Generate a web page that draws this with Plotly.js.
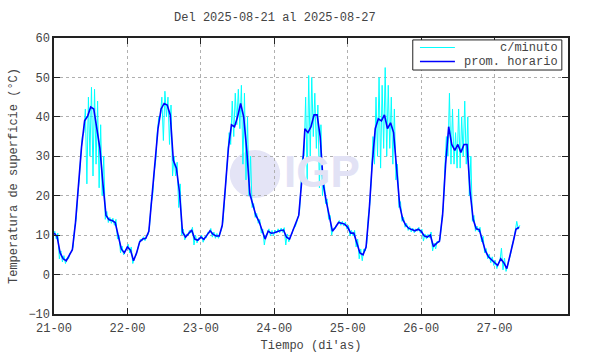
<!DOCTYPE html>
<html>
<head>
<meta charset="utf-8">
<script src="https://cdn.plot.ly/plotly-3.0.1.min.js"></script>
<style>html,body{margin:0;padding:0;background:#fff}#chart{width:590px;height:354px}</style>
</head>
<body>
<div id="chart"></div>
<script>
// Hourly averages (prom. horario), starting 2025-08-21 00:00, one value per hour
const promHorario = [
  10.5,9.7,5.5,4.0,3.5,4.8,6.3,13,22,32.4,39,40.2,42.5,42,37,32,23,15,13.9,13.7,13.2,9.5,6.5,5.5,
  7,6.2,3.5,5.5,8.3,9.0,9.2,11,19,27.4,37,42,43.4,43,40.5,29,27,21,10.8,9.5,10.5,11.3,9,8.7,
  9.5,8.9,10,11.1,10.2,9.8,9.8,12.5,22,32,38,37.5,40,43.4,40,31.6,20.5,17.5,15,13.5,11,9,11,10.5,
  10.6,11,11.2,11.3,9.5,9,11,12.5,15,24,37,36,37.5,40.5,40.5,35,23,18.5,14.5,11,12,13.2,13,12.8,
  12,10.5,10.5,8,5.5,5,7,16,28,37,39.5,39,40.5,37,38.5,36,26,17.5,14,12.5,11.7,11.3,11.1,11.5,
  11,9.8,9.5,10,7.1,7.9,8.5,15,28,37.5,33,31.5,33,31,33,33,21,14,11.6,11.4,9,6,4.5,3.8,
  3,2.3,4,3,1.5,4.5,8,11.5,12
];
// Per-minute readings (c/minuto): lowest and highest value read within each hour
const minutoBajo = [
  10,9,4,3.2,2.8,4,5.8,12,20,30,36,23,30,25,28,22,20,14,13.2,13,12.5,9,5.5,5,
  6.5,5.5,2.8,4.8,7.5,8.5,8.6,10,18,26,36,40,34,40,33,25,25,17,10,8.8,9.8,10.5,7.5,8,
  9,8.2,9.3,10.5,9.5,9.2,9.2,11.5,20,30,33,35,38,37,28,24,20,17,14.5,13,10.5,7.5,10.5,9.8,
  9.8,10.5,10.6,10.7,7.5,8.3,10.3,12,14.5,23,30,24,30,35,32,22,20,18,14,10,11.5,12.7,12.5,12.3,
  11.5,9.8,9.8,7,4,3.5,6,15,25,28,30,27,32,30,32,28,24,17,13.5,12,11.2,10.8,10.6,11,
  10.5,8.5,9,9.3,6,6.5,8,14,27,30,28,28,27,27,30,28,20,13.5,11,10.8,8.3,5.5,4,3,
  2.3,1.5,3.5,1.2,0.8,4,7.5,11,11.5
];
const minutoAlto = [
  11,10.5,6,4.8,4.2,5.5,7,14,24,35,42,45,47.5,47,44,38,30,16,14.5,14.3,14,10,7.2,6.2,
  7.7,7,4.2,6.2,9,9.6,9.8,12.5,20,29,40,45,46.5,45,43,30,28.5,23,11.5,10.3,11.2,12,10,9.3,
  10,9.6,10.7,11.7,10.8,10.4,10.4,13.5,24,36,44,46,47,48,46,40,30,18,15.5,14,11.5,10,11.6,11.2,
  11.3,11.6,11.8,11.9,10.3,9.7,11.7,13,16,30,45,50.5,50,46,43,38,25,19.2,15,11.8,12.5,13.7,13.5,13.3,
  12.5,11.2,11.2,9,6.5,6.5,8,18,35,45,50,48,52.5,48,45,42,28,18.5,14.5,13,12.2,11.8,11.6,12,
  11.5,10.3,10.2,10.8,8,8.5,9.2,17,35,46,42,36,42,40,44,40,30,15,12.3,12,9.7,6.6,5.2,4.5,
  3.6,3,6.7,4.2,2.2,5.2,8.8,13.5,12.5
];
const tickDias = ['2025-08-21','2025-08-22','2025-08-23','2025-08-24','2025-08-25','2025-08-26','2025-08-27'];
const tickEtiquetas = ['21-00','22-00','23-00','24-00','25-00','26-00','27-00'];
const nombres = ['c/minuto', 'prom. horario'];
const colores = ['#00ffff', '#0000ff'];

const base = Date.UTC(2025,7,21);
const H = 3600000;
const xHora = promHorario.map((v,i)=> base + i*H);
const xMin = [], yMin = [];
for (let i=0;i<minutoBajo.length;i++){
  xMin.push(base + (i-0.25)*H); yMin.push(minutoBajo[i]);
  xMin.push(base + (i+0.25)*H); yMin.push(minutoAlto[i]);
}

const fnt = {family:'Liberation Mono, DejaVu Sans Mono, monospace', size:12, color:'#444'};

const traces = [
  {x:xMin, y:yMin, type:'scatter', mode:'lines', name:nombres[0],
   line:{color:colores[0], width:1}},
  {x:xHora, y:promHorario, type:'scatter', mode:'lines', name:nombres[1],
   line:{color:colores[1], width:1.6}}
];

const axisCommon = {
  showline:true, linecolor:'#222', linewidth:1.6, mirror:'ticks',
  ticks:'inside', ticklen:6, tickcolor:'#222', tickwidth:1.2,
  showgrid:true, gridcolor:'#b0b0b0', griddash:'dot', gridwidth:1,
  zeroline:false, tickfont:fnt
};

// legend drawn as a boxed key in the top-right corner (paper coordinates)
const legBox = {x0:0.698, x1:0.988, y0:0.884, y1:0.993};
const legRowsY = [0.9656, 0.915];
const shapes = [
  {type:'circle', xref:'paper', yref:'paper', x0:0.342, x1:0.44, y0:0.42, y1:0.594,
   fillcolor:'#e4e4f6', line:{width:0}, layer:'below'},
  {type:'rect', xref:'paper', yref:'paper', x0:legBox.x0, x1:legBox.x1, y0:legBox.y0, y1:legBox.y1,
   fillcolor:'#fff', line:{color:'#222', width:1}}
];
const annotations = [
  {text:'<b>IGP</b>', xref:'paper', yref:'paper', x:0.522, y:0.515, showarrow:false,
   font:{family:'Liberation Sans, Arial, sans-serif', size:44, color:'#e2e2f5'}}
];
nombres.forEach((n,i)=>{
  shapes.push({type:'line', xref:'paper', yref:'paper', x0:0.712, x1:0.78, y0:legRowsY[i], y1:legRowsY[i],
    line:{color:colores[i], width:i===0?1:1.6}});
  annotations.push({text:n, xref:'paper', yref:'paper', x:0.982, xanchor:'right', y:legRowsY[i], yanchor:'middle',
    showarrow:false, font:fnt, height:13, borderpad:0});
});

const layout = {
  width:590, height:354,
  margin:{l:54, r:22, t:38, b:40},
  paper_bgcolor:'#fff', plot_bgcolor:'#fff',
  title:{text:'Del 2025-08-21 al 2025-08-27', font:fnt, x:0.466, xanchor:'center', y:0.952, yanchor:'middle'},
  xaxis: Object.assign({}, axisCommon, {
    type:'date', range:[base, base+7*24*H],
    tickvals:tickDias.map(d=>d+' 00:00'), ticktext:tickEtiquetas, ticklabelstandoff:2,
    title:{text:"Tiempo (di'as)", font:fnt, standoff:5}
  }),
  yaxis: Object.assign({}, axisCommon, {
    range:[-10,60], dtick:10, tick0:0,
    title:{text:'Temperatura de superficie (°C)', font:fnt, standoff:8}
  }),
  showlegend:false,
  shapes:shapes,
  annotations:annotations
};

Plotly.newPlot('chart', traces, layout, {displayModeBar:false, staticPlot:true});
</script>
</body>
</html>
